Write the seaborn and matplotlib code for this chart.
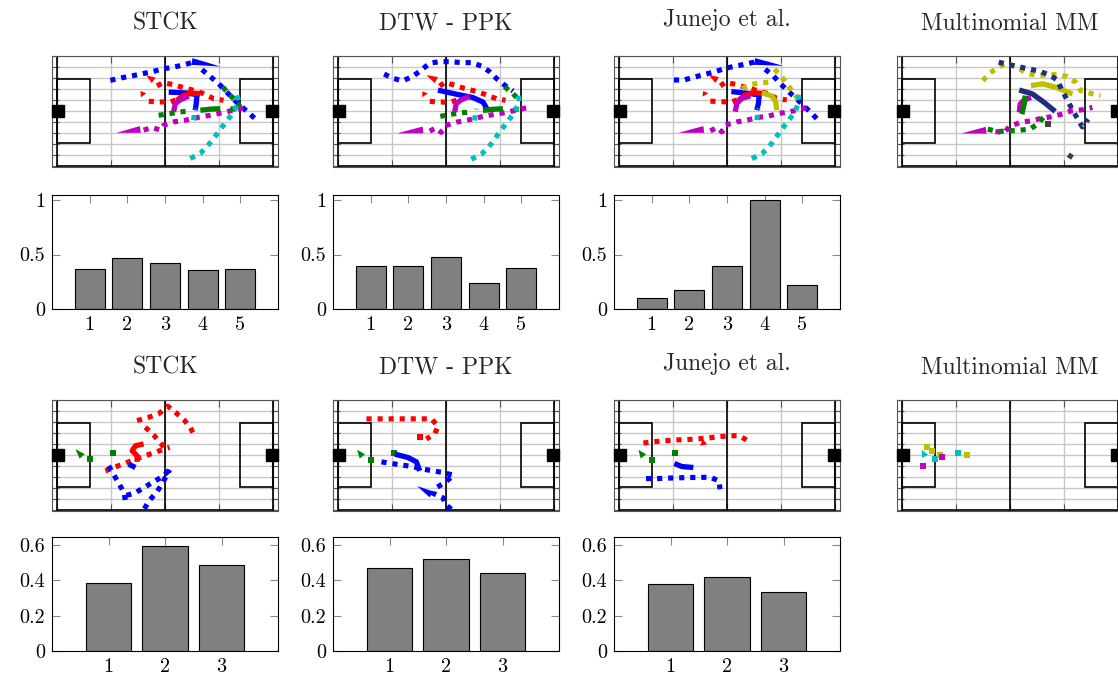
import numpy as np
import matplotlib
matplotlib.use("Agg")
import matplotlib.pyplot as plt
from matplotlib.patches import Rectangle
import seaborn as sns

# ---- bar chart data (rank -> score) ----
bars_top_x = [1, 2, 3, 4, 5]
stck_top = [0.367, 0.471, 0.425, 0.358, 0.370]
dtw_top = [0.397, 0.397, 0.480, 0.237, 0.375]
junejo_top = [0.105, 0.175, 0.390, 0.997, 0.220]

bars_bot_x = [1, 2, 3]
stck_bot = [0.386, 0.595, 0.490]
dtw_bot = [0.470, 0.524, 0.442]
junejo_bot = [0.377, 0.421, 0.335]

# ---- trajectories, pitch metres (centre = 0,0) ----
# (colour, kind, xs, ys); kind: dot / solid / wedge (tip -> base) / mark
stck_traj_top = [
    ("b", "dot", [-26.6, -20.9, -15.2, -7.1, -0.6, 4.2, 9.1, 13.9], [19.2, 20.8, 22.2, 24.3, 26.4, 27.4, 28.8, 30.5]),
    ("b", "dot", [18.0, 22.0, 26.1, 29.3, 32.6, 36.6, 40.7, 44.7], [25.8, 21.6, 17.1, 13.0, 8.4, 3.7, -1.0, -5.6]),
    ("b", "wedge", [26.9, 13.1], [27.8, 30.9]),
    ("b", "solid", [1.8, 10.7, 15.6, 15.2, 14.7], [11.9, 11.3, 10.3, 4.7, 0.6]),
    ("r", "wedge", [-9.1, -5.5], [22.2, 19.2]),
    ("r", "dot", [-3.9, -1.0, 4.2, 9.1, 13.9, 18.8, 23.7, 28.5], [15.7, 17.7, 16.5, 14.6, 13.0, 10.9, 7.8, 6.8]),
    ("r", "wedge", [-12.0, -10.4], [12.6, 9.9]),
    ("r", "dot", [-7.9, -3.1, 2.6, 5.8], [6.2, 5.8, 5.8, 7.2]),
    ("r", "solid", [5.8, 9.1, 13.1, 17.2], [6.8, 9.9, 11.3, 10.9]),
    ("m", "wedge", [-23.7, -12.0], [-13.4, -11.3]),
    ("m", "dot", [-10.4, -6.3, -2.3, -0.6, 4.2, 9.9, 15.6, 22.0, 28.5, 35.0, 40.7], [-11.7, -10.1, -11.7, -8.7, -6.6, -5.6, -3.9, -2.5, -0.8, 1.2, 2.7]),
    ("m", "solid", [4.2, 5.0, 7.5, 11.5], [-0.4, 4.7, 7.2, 9.3]),
    ("g", "dot", [-3.1, 2.6, 7.5, 12.3], [-2.5, -1.4, -0.4, 0.2]),
    ("g", "solid", [17.2, 22.0, 26.9], [0.6, 1.3, 1.6]),
    ("g", "dot", [31.8, 36.6], [1.6, 1.0]),
    ("g", "dot", [28.2, 30.9, 34.2, 36.6], [15.0, 10.9, 6.8, 2.7]),
    ("c", "dot", [12.3, 17.2, 20.4, 23.7, 26.9, 30.1, 33.4, 35.8, 35.0], [-29.3, -26.2, -22.0, -16.9, -11.3, -6.0, -0.4, 5.8, 10.9]),
    ("c", "dot", [13.9, 14.7], [-5.6, 1.6]),
]

dtw_traj_top = [
    ("b", "dot", [-30.1, -25.8, -20.9, -16.0, -12.0, -8.0, -3.1, 1.8, 7.5, 12.3, 17.2, 21.2, 24.5, 28.5, 32.6],
     [23.1, 20.4, 18.9, 21.8, 25.6, 29.8, 30.8, 30.8, 30.2, 30.2, 28.1, 24.6, 20.4, 16.2, 12.6]),
    ("b", "solid", [-3.9, 5.0, 13.1, 18.0, 19.9], [13.1, 10.6, 8.5, 5.7, 1.6]),
    ("r", "wedge", [-9.6, -4.7], [22.5, 19.3]),
    ("r", "dot", [-3.1, -0.6, 4.2, 9.1, 13.9, 18.8, 24.5, 29.0], [15.6, 17.9, 16.2, 14.1, 12.6, 10.6, 7.8, 6.8]),
    ("r", "wedge", [-11.5, -10.2], [12.4, 9.9]),
    ("r", "dot", [-7.9, -3.1, 2.6, 5.8], [6.2, 5.7, 5.7, 7.2]),
    ("m", "wedge", [-23.8, -11.2], [-13.7, -11.6]),
    ("m", "dot", [-7.9, -5.0, -2.3, -0.2, 5.0, 9.9, 15.1, 20.4, 25.3, 30.1, 35.8, 40.7], [-12.4, -10.3, -13.1, -8.9, -6.8, -5.7, -4.1, -2.6, -1.6, -0.5, 1.2, 2.6]),
    ("m", "solid", [4.2, 5.0, 7.5, 11.5], [-0.5, 4.7, 7.2, 9.3]),
    ("g", "dot", [-2.8, 1.8, 6.6, 11.5], [-3.2, -2.0, -1.1, -0.5]),
    ("g", "solid", [18.0, 22.8, 27.7], [0.5, 1.2, 1.6]),
    ("g", "dot", [32.6, 37.4], [1.6, 1.6]),
    ("g", "dot", [28.5, 32.6, 35.8], [15.2, 11.0, 6.4]),
    ("c", "dot", [12.3, 17.2, 20.4, 23.7, 26.9, 30.1, 33.4, 35.8, 35.0], [-29.8, -26.6, -22.9, -17.2, -11.6, -6.2, -0.5, 5.7, 11.4]),
    ("c", "dot", [13.9, 14.7], [-5.7, 1.6]),
]

junejo_traj_top = [
    ("b", "dot", [-25.8, -21.0, -16.2, -10.5, -5.7, -0.8, 4.8, 9.7, 13.7], [19.4, 19.4, 21.1, 23.0, 24.6, 26.7, 28.2, 29.4, 30.7]),
    ("b", "dot", [18.6, 22.6, 25.8, 29.1, 33.1, 37.1, 40.9, 44.4], [26.1, 21.9, 17.4, 13.2, 8.6, 3.8, -0.9, -5.5]),
    ("b", "wedge", [27.5, 13.4], [28.2, 30.9]),
    ("b", "solid", [2.1, 10.5, 15.7, 15.3, 14.5], [12.2, 11.1, 10.1, 4.9, 0.7]),
    ("r", "wedge", [-8.9, -4.8], [22.6, 19.4]),
    ("r", "dot", [-3.2, -0.8, 4.0, 8.9, 13.7, 19.4, 24.2, 29.1], [15.7, 18.0, 16.7, 14.9, 13.2, 11.1, 8.0, 7.0]),
    ("r", "wedge", [-11.6, -10.5], [12.6, 10.1]),
    ("r", "dot", [-8.1, -3.2, 2.4, 5.7], [6.3, 5.9, 5.9, 7.4]),
    ("r", "solid", [5.7, 8.9, 12.9, 17.0], [7.0, 10.1, 11.5, 11.1]),
    ("y", "dot", [7.3, 12.1, 17.0, 21.0], [14.2, 16.7, 17.8, 18.0]),
    ("y", "dot", [23.1, 25.0, 27.5, 29.9, 32.3, 34.7], [26.1, 23.6, 19.9, 15.7, 11.5, 7.4]),
    ("y", "solid", [17.0, 21.8, 23.7, 24.2], [11.5, 9.5, 5.9, 0.7]),
    ("m", "wedge", [-23.7, -11.3], [-13.4, -11.3]),
    ("m", "dot", [-8.1, -4.8, -2.4, -0.8, 4.8, 9.7, 15.3, 20.2, 25.0, 30.7, 35.5, 40.4], [-12.2, -10.1, -12.8, -8.6, -6.6, -5.5, -3.8, -3.0, -1.4, -0.3, 1.4, 2.8]),
    ("m", "solid", [4.0, 4.8, 7.3, 11.3], [-0.3, 4.9, 8.0, 9.5]),
    ("c", "dot", [12.1, 17.0, 20.2, 23.4, 26.6, 29.9, 33.1, 35.0, 34.4], [-29.4, -26.3, -22.6, -17.0, -11.3, -5.9, -0.3, 5.9, 11.5]),
    ("c", "dot", [14.5, 15.3], [-5.5, 1.8]),
]

mm_traj_top = [
    ("y", "dot", [-13.2, -10.0, -6.0, -1.9, 2.9, 7.8, 12.6, 18.2, 23.1, 27.9, 32.0, 34.4, 39.2, 44.1],
     [19.0, 23.6, 26.9, 29.8, 27.8, 23.8, 22.2, 22.6, 22.8, 21.5, 18.0, 12.8, 11.1, 9.7]),
    ("y", "solid", [10.2, 15.8, 22.3, 30.4], [15.9, 17.0, 14.9, 10.7]),
    ("n", "dot", [-5.5, -1.1, 3.7, 9.0, 14.2, 18.7, 23.1, 25.2, 27.6, 30.0, 32.8, 35.2, 38.0],
     [30.5, 29.0, 27.8, 26.3, 24.9, 22.8, 19.4, 13.2, 7.6, 1.8, -4.5, -9.7, -4.9]),
    ("n", "solid", [4.5, 11.0, 16.6, 22.0], [13.2, 10.7, 5.5, -0.1]),
    ("m", "wedge", [-23.7, -11.6], [-13.8, -11.8]),
    ("m", "dot", [-7.1, -2.7, -0.3, 4.8, 10.2, 15.0, 20.2, 25.2, 30.0, 35.2, 40.1], [-12.6, -13.2, -9.5, -7.0, -5.9, -4.5, -3.4, -1.8, 0.3, 0.9, 2.4]),
    ("m", "solid", [4.5, 5.0, 6.9, 10.2], [-0.7, 4.5, 7.0, 8.6]),
    ("g", "dot", [-10.8, -6.0, -0.6, 4.5, 9.7, 13.4, 16.6], [-11.1, -12.6, -12.2, -11.8, -11.1, -8.0, -3.4]),
    ("g", "solid", [7.4, 6.9, 5.8], [9.7, 4.5, -1.8]),
    ("k", "dot", [28.7, 31.5], [-29.2, -23.6]),
    ("k", "mark", [18.7], [-8.0]),
]

stck_traj_bot = [
    ("r", "dot", [-13.6, -7.9, -3.1, 1.3, 5.0, 9.1, 12.3, 14.7], [21.5, 23.6, 25.7, 30.5, 26.7, 22.2, 17.4, 11.1]),
    ("r", "dot", [-9.6, -5.5, -2.6, 0.6], [17.4, 12.6, 8.0, 3.8]),
    ("r", "dot", [-29.0, -24.1, -19.3, -14.4, -9.6, -4.7, -0.6, 2.3], [-9.7, -7.2, -4.9, -2.4, -0.3, 1.8, 3.8, 4.9]),
    ("r", "solid", [-10.4, -14.4, -16.0, -13.6, -13.6], [7.0, 5.9, 2.8, -0.3, -4.1]),
    ("g", "wedge", [-43.6, -40.3], [3.8, -0.7]),
    ("g", "mark", [-36.3, -25.3], [-2.4, 1.1]),
    ("b", "dot", [-27.4, -24.6, -22.0, -19.8, -19.3], [-6.6, -12.8, -18.6, -23.6, -28.4]),
    ("b", "dot", [-18.8, -14.9, -10.7, -6.3, -1.9, 1.8], [-24.9, -23.6, -20.5, -17.0, -13.8, -9.7]),
    ("b", "dot", [-10.0, -7.9, -4.2, -1.5, 0.6, 2.3], [-33.2, -28.4, -23.2, -18.0, -12.8, -9.0]),
    ("b", "solid", [-17.7, -14.4], [-5.5, -7.6]),
]

dtw_traj_bot = [
    ("r", "dot", [-38.7, -33.0, -27.7, -22.5, -17.3, -12.0, -7.1, -3.9, -5.5, -9.6], [22.6, 22.6, 22.6, 22.6, 22.6, 22.6, 22.6, 18.0, 13.2, 10.1]),
    ("r", "mark", [-12.8], [11.1]),
    ("g", "wedge", [-43.3, -40.7], [3.4, -0.7]),
    ("g", "mark", [-36.3, -25.4], [-2.8, 1.1]),
    ("b", "dot", [-31.4, -26.6, -21.2, -16.4, -11.2, -6.3, -1.5, 3.7, -0.6, -4.7, -6.3, -1.5, -0.2, 2.6],
     [-4.1, -5.1, -6.1, -7.0, -8.6, -9.7, -10.7, -12.4, -17.0, -20.1, -23.6, -26.4, -30.5, -33.6]),
    ("b", "wedge", [-14.1, -7.1], [-19.1, -24.3]),
    ("b", "solid", [-24.9, -18.5, -14.4, -12.8], [0.7, -1.4, -4.1, -9.7]),
]

junejo_traj_bot = [
    ("r", "dot", [-40.7, -35.3, -30.1, -24.9, -19.9, -14.7, -9.4, -4.2, 0.6, 5.5, 9.6], [7.6, 8.4, 9.0, 9.5, 9.7, 10.1, 10.7, 11.5, 12.0, 12.2, 9.5]),
    ("r", "wedge", [-13.1, -10.7], [5.9, 8.4]),
    ("g", "wedge", [-43.1, -40.7], [3.4, -0.7]),
    ("g", "mark", [-36.6, -25.3], [-2.8, 1.1]),
    ("b", "dot", [-39.4, -34.2, -28.8, -23.7, -18.5, -13.4, -8.3, -3.9, -3.4], [-14.5, -14.5, -14.2, -14.0, -13.8, -13.8, -13.6, -15.9, -21.1]),
    ("b", "solid", [-25.6, -22.0, -16.4], [-5.1, -7.0, -7.6]),
]

mm_traj_bot = [
    ("c", "wedge", [-43.0, -41.3], [3.4, -0.7]),
    ("c", "mark", [-36.7, -25.4], [-2.4, 1.1]),
    ("y", "mark", [-40.4, -37.8, -33.9, -21.0], [4.9, 2.8, 0.1, 0.1]),
    ("m", "mark", [-42.3, -33.3], [-6.6, -0.9]),
]

titles = ["STCK", "DTW - PPK", "Junejo et al.", "Multinomial MM"]

COLORS = {"b": "#0000ff", "r": "#ff0000", "m": "#bf00bf", "g": "#008000",
          "c": "#00bfbf", "y": "#bfbf00", "n": "#1c2f80", "k": "#404040"}

# pitch geometry (metres)
HALF_L, HALF_W = 52.5, 34.0
BOX_D, BOX_HW = 16.0, 20.0
GOAL_D, GOAL_HW = 6.0, 3.6

sns.set_theme(style="white")
plt.rcParams["font.family"] = ["cmr10", "DejaVu Serif"]
plt.rcParams["axes.formatter.use_mathtext"] = True

W, H = 1118, 677
fig = plt.figure(figsize=(W / 100, H / 100), dpi=100)

col_left = [52, 333, 614, 897]
panel_w = 226
# titles with a descender sit a little higher (pgfplots anchors on the text box)
title_raise = [0, 0, 4, 0]


def px_axes(left, top, width, height):
    return fig.add_axes([left / W, 1 - (top + height) / H, width / W, height / H])


def draw_pitch(ax):
    ax.set_xlim(-55, 55)
    ax.set_ylim(-34.6, 34.3)
    ax.set_xticks(np.linspace(-HALF_L, HALF_L, 5))
    ax.set_yticks(np.linspace(-HALF_W, HALF_W, 11))
    ax.grid(True, color="#c8c8c8", lw=1.0)
    ax.tick_params(direction="in", length=5, width=0.8, color="#555555", top=True, right=True,
                   labelleft=False, labelbottom=False, left=True, bottom=True)
    for s in ax.spines.values():
        s.set_color("#555555")
        s.set_linewidth(0.8)
    lk = dict(color="black", lw=1.2, zorder=2)
    ax.add_patch(Rectangle((-HALF_L, -HALF_W), 2 * HALF_L, 2 * HALF_W, fill=False, **lk))
    ax.plot([0, 0], [-HALF_W, HALF_W], **lk)
    ax.add_patch(Rectangle((-HALF_L, -BOX_HW), BOX_D, 2 * BOX_HW, fill=False, **lk))
    ax.add_patch(Rectangle((HALF_L - BOX_D, -BOX_HW), BOX_D, 2 * BOX_HW, fill=False, **lk))
    for gx in (-55.0, 55.0 - GOAL_D):
        ax.add_patch(Rectangle((gx, -GOAL_HW), GOAL_D, 2 * GOAL_HW, color="black",
                               zorder=5, clip_on=False))


def draw_traj(ax, trajs):
    bb = ax.get_window_extent()
    kx = bb.width / 110.0
    ky = bb.height / 68.9
    for key, kind, xs, ys in trajs:
        c = COLORS[key]
        if kind == "dot":
            ax.plot(xs, ys, color=c, lw=3.7, linestyle=(0, (1, 1.15)), dash_capstyle="butt", zorder=3)
        elif kind == "solid":
            ax.plot(xs, ys, color=c, lw=3.8, solid_capstyle="butt", zorder=3)
        elif kind == "mark":
            ax.plot(xs, ys, "s", color=c, ms=4.5, mew=0, zorder=3)
        else:
            tx, bx = xs
            ty, by = ys
            dx, dy = (bx - tx) * kx, (by - ty) * ky
            n = np.hypot(dx, dy)
            half = 3.4
            ox, oy = -dy / n * half / kx, dx / n * half / ky
            ax.fill([tx, bx + ox, bx - ox], [ty, by + oy, by - oy], color=c, lw=0, zorder=3)


def draw_bars(ax, xs, vals, ymax, yticks, ylabels):
    sns.barplot(x=xs, y=vals, native_scale=True, width=0.8, color="#808080", saturation=1,
                edgecolor="black", linewidth=0.8, ax=ax)
    ax.set_xlim(0, len(xs) + 1)
    ax.set_ylim(0, ymax)
    ax.set_xticks(xs)
    ax.set_xticklabels([str(v) for v in xs])
    ax.set_yticks(yticks)
    ax.set_yticklabels(ylabels)
    ax.tick_params(direction="in", length=6, width=0.8, color="#888888", top=True, right=True,
                   left=True, bottom=True, labelsize=14.5, pad=5, labelcolor="black")
    ax.set_xlabel("")
    ax.set_ylabel("")
    for s in ax.spines.values():
        s.set_color("black")
        s.set_linewidth(0.8)


top_trajs = [stck_traj_top, dtw_traj_top, junejo_traj_top, mm_traj_top]
bot_trajs = [stck_traj_bot, dtw_traj_bot, junejo_traj_bot, mm_traj_bot]

for i in range(4):
    ax = px_axes(col_left[i], 56, panel_w, 111)
    draw_pitch(ax)
    draw_traj(ax, top_trajs[i])
    ax = px_axes(col_left[i], 400, panel_w, 111)
    draw_pitch(ax)
    draw_traj(ax, bot_trajs[i])
    cx = (col_left[i] + panel_w / 2) / W
    fig.text(cx, 1 - (30 - title_raise[i]) / H, titles[i], ha="center", va="baseline", fontsize=17)
    fig.text(cx, 1 - (374 - title_raise[i]) / H, titles[i], ha="center", va="baseline", fontsize=17)

top_vals = [stck_top, dtw_top, junejo_top]
bot_vals = [stck_bot, dtw_bot, junejo_bot]
for i in range(3):
    ax = px_axes(col_left[i], 195, panel_w, 114)
    draw_bars(ax, bars_top_x, top_vals[i], 1.046, [0, 0.5, 1], ["0", "0.5", "1"])
    ax = px_axes(col_left[i], 537, panel_w, 114)
    draw_bars(ax, bars_bot_x, bot_vals[i], 0.646, [0, 0.2, 0.4, 0.6], ["0", "0.2", "0.4", "0.6"])

fig.savefig("out.png", dpi=100)
